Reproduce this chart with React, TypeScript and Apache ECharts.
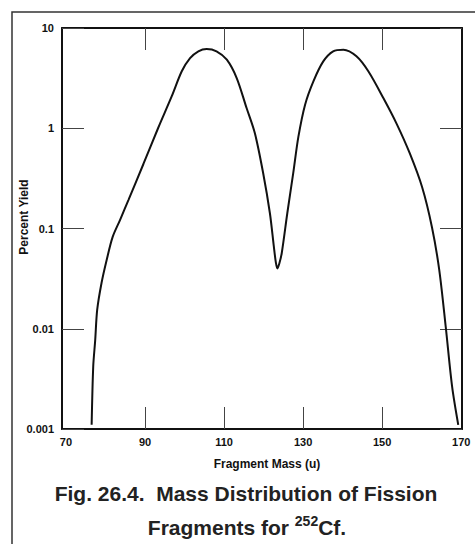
import React, { useEffect, useRef } from "react";
import * as echarts from "echarts";

const masses = [
  76.5, 76.9, 77.4, 77.9, 79.0, 80.3, 81.8, 83.7, 85.8, 89.6, 93.3, 96.8, 99.3, 101.4, 103.5, 105.6,
  108.1, 110.7, 113.2, 115.7, 117.8, 119.9, 121.6, 122.6, 123.1, 123.5, 124.0, 124.6, 126.0, 127.5,
  128.8, 130.5, 132.6, 135.1, 137.6, 140.2, 143.5, 146.5, 150.3, 153.7, 157.0, 160.1, 162.6, 164.45,
  166.1, 167.7, 169.25,
];
const yields = [
  0.0011, 0.0042, 0.0077, 0.0154, 0.0286, 0.0485, 0.082, 0.122, 0.192, 0.44, 1.0, 2.1, 3.7, 5.0, 5.86,
  6.18, 5.86, 4.83, 3.17, 1.59, 0.89, 0.356, 0.142, 0.066, 0.046, 0.04, 0.045, 0.057, 0.142, 0.356,
  0.82, 1.72, 2.94, 4.65, 5.86, 6.08, 5.22, 3.7, 2.0, 1.1, 0.56, 0.259, 0.103, 0.0385, 0.0103, 0.00264,
  0.0011,
];
const xLabelValues = [70, 90, 110, 130, 150, 170];
const xTickValues = [90, 110, 130, 150];
const yTickLabels = ["0.001", "0.01", "0.1", "1", "10"];

const xName = "Fragment Mass (u)";
const yName = "Percent Yield";
const titleLine1 = "Fig. 26.4.  Mass Distribution of Fission";
const titleLine2 = "{a|Fragments for }{s|252}{a|Cf.}";

const FONT = "'Liberation Sans', Arial, Helvetica, sans-serif";

export default function App() {
  const ref = useRef<HTMLDivElement>(null);
  useEffect(() => {
    if (!ref.current) return;
    const chart = echarts.init(ref.current, null, { renderer: "svg" });
    const axisLine = { show: true, lineStyle: { color: "#111", width: 2 } };
    const tickStyle = { color: "#444", width: 1 };
    const xCommon = {
      type: "value",
      min: 69,
      max: 170.2,
      splitLine: { show: false },
      axisLine,
    };
    const yCommon = {
      type: "log",
      logBase: 10,
      min: 0.001,
      max: 10,
      splitLine: { show: false },
      minorTick: { show: false },
      axisLine,
      axisTick: { show: true, inside: true, length: 22, lineStyle: tickStyle },
    };
    chart.setOption({
      animation: false,
      backgroundColor: "#fff",
      grid: { left: 62, right: 13, top: 28, bottom: 115 },
      xAxis: [
        {
          ...xCommon,
          position: "bottom",
          axisTick: { show: true, inside: true, length: 22, lineStyle: tickStyle, customValues: xTickValues },
          axisLabel: {
            show: true,
            customValues: xLabelValues,
            margin: 7,
            color: "#111",
            fontSize: 11,
            fontWeight: "bold",
            fontFamily: FONT,
          },
        },
        {
          ...xCommon,
          position: "top",
          axisTick: { show: true, inside: true, length: 22, lineStyle: tickStyle, customValues: xTickValues },
          axisLabel: { show: false },
        },
      ],
      yAxis: [
        {
          ...yCommon,
          position: "left",
          axisLabel: {
            show: true,
            margin: 8,
            color: "#111",
            fontSize: 11,
            fontWeight: "bold",
            fontFamily: FONT,
            formatter: (v: number) => {
              const i = Math.round(Math.log10(v)) + 3;
              return yTickLabels[i] ?? "";
            },
          },
        },
        {
          ...yCommon,
          position: "right",
          axisLabel: { show: false },
        },
      ],
      series: [
        {
          type: "line",
          xAxisIndex: 0,
          yAxisIndex: 0,
          data: masses.map((m, i) => [m, yields[i]]),
          showSymbol: false,
          smooth: 0.3,
          lineStyle: { color: "#111", width: 2 },
        },
      ],
      graphic: [
        {
          type: "rect",
          shape: { x: 12, y: 12, width: 470, height: 540 },
          style: { fill: "none", stroke: "#333", lineWidth: 1.5 },
          silent: true,
        },
        {
          type: "text",
          x: 267,
          y: 464,
          style: {
            text: xName,
            align: "center",
            verticalAlign: "middle",
            font: `bold 12px ${FONT}`,
            fill: "#111",
          },
        },
        {
          type: "text",
          x: 24,
          y: 217,
          rotation: Math.PI / 2,
          style: {
            text: yName,
            align: "center",
            verticalAlign: "middle",
            font: `bold 12px ${FONT}`,
            fill: "#111",
          },
        },
        {
          type: "text",
          x: 246,
          y: 493,
          style: {
            text: titleLine1,
            align: "center",
            verticalAlign: "middle",
            font: `bold 21px ${FONT}`,
            fill: "#222",
          },
        },
        {
          type: "text",
          x: 247,
          y: 526,
          style: {
            text: titleLine2,
            align: "center",
            verticalAlign: "middle",
            fill: "#222",
            rich: {
              a: {
                fontSize: 21,
                fontWeight: "bold",
                fontFamily: FONT,
                fill: "#222",
                lineHeight: 24,
                verticalAlign: "bottom",
              },
              s: {
                fontSize: 14,
                fontWeight: "bold",
                fontFamily: FONT,
                fill: "#222",
                lineHeight: 8,
                verticalAlign: "top",
              },
            },
          },
        },
      ],
    });
    return () => chart.dispose();
  }, []);
  return (
    <div
      ref={ref}
      style={{ position: "fixed", left: 0, top: 0, width: 475, height: 544 }}
    />
  );
}
